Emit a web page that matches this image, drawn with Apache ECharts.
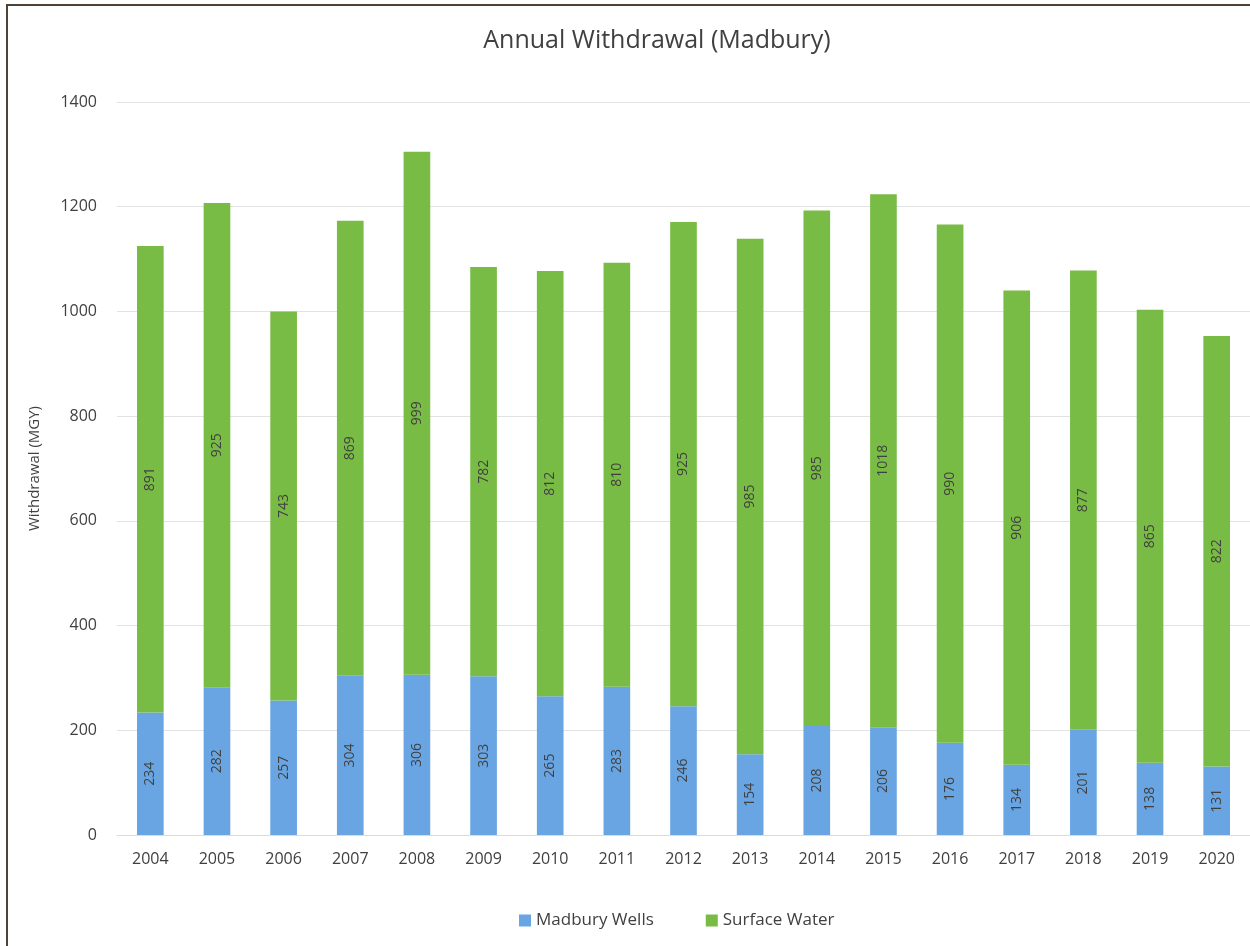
<!DOCTYPE html>
<html>
<head>
<meta charset="utf-8">
<script src="https://cdn.jsdelivr.net/npm/echarts@6/dist/echarts.min.js"></script>
<style>
html,body{margin:0;padding:0;background:#fff;}
#chart{width:1250px;height:946px;}
</style>
</head>
<body>
<div id="chart"></div>
<script>
const years = ['2004','2005','2006','2007','2008','2009','2010','2011','2012','2013','2014','2015','2016','2017','2018','2019','2020'];
const madburyWells = [234,282,257,304,306,303,265,283,246,154,208,206,176,134,201,138,131];
const surfaceWater = [891,925,743,869,999,782,812,810,925,985,985,1018,990,906,877,865,822];
const yTicks = [0,200,400,600,800,1000,1200,1400];

const FONT = 'Open Sans, Liberation Sans, sans-serif';
const chart = echarts.init(document.getElementById('chart'));
const labelStyle = {
  show: true, position: 'inside', rotate: 90,
  color: '#404040', fontSize: 14, fontFamily: FONT
};
chart.setOption({
  backgroundColor: '#ffffff',
  animation: false,
  title: {
    text: 'Annual Withdrawal (Madbury)',
    left: 652, top: 23, textAlign: 'center',
    textStyle: { fontSize: 25, fontWeight: 'normal', color: '#404040', fontFamily: FONT }
  },
  legend: {
    data: ['Madbury Wells', 'Surface Water'],
    left: 514, top: 907,
    itemWidth: 12, itemHeight: 12, itemGap: 52,
    icon: 'rect',
    textStyle: { fontSize: 17, color: '#404040', fontFamily: FONT }
  },
  grid: { left: 117, right: 0, top: 102, bottom: 111, containLabel: false },
  xAxis: {
    type: 'category', data: years,
    axisLine: { lineStyle: { color: '#dcdcdc' } },
    axisTick: { show: false },
    axisLabel: { fontSize: 16, color: '#404040', margin: 16, fontFamily: FONT }
  },
  yAxis: {
    type: 'value', min: yTicks[0], max: yTicks[yTicks.length-1], interval: 200,
    name: 'Withdrawal (MGY)', nameLocation: 'middle', nameGap: 75, nameRotate: 90,
    nameTextStyle: { fontSize: 15, color: '#404040', fontFamily: FONT },
    axisLine: { show: false }, axisTick: { show: false },
    axisLabel: { fontSize: 16, color: '#404040', margin: 20, fontFamily: FONT, formatter: v => String(v) },
    splitLine: { lineStyle: { color: '#e2e2e2' } }
  },
  series: [
    { name: 'Madbury Wells', type: 'bar', stack: 'total', data: madburyWells, barWidth: '40%',
      itemStyle: { color: '#69a5e2' }, label: labelStyle },
    { name: 'Surface Water', type: 'bar', stack: 'total', data: surfaceWater, barWidth: '40%',
      itemStyle: { color: '#79bc45' }, label: labelStyle }
  ],
  graphic: [
    { type: 'line', shape: { x1: 6, y1: 5, x2: 1250, y2: 5 }, style: { stroke: '#4f4337', lineWidth: 2 } },
    { type: 'line', shape: { x1: 7, y1: 4, x2: 7, y2: 946 }, style: { stroke: '#4f4337', lineWidth: 2 } }
  ]
});
</script>
</body>
</html>
